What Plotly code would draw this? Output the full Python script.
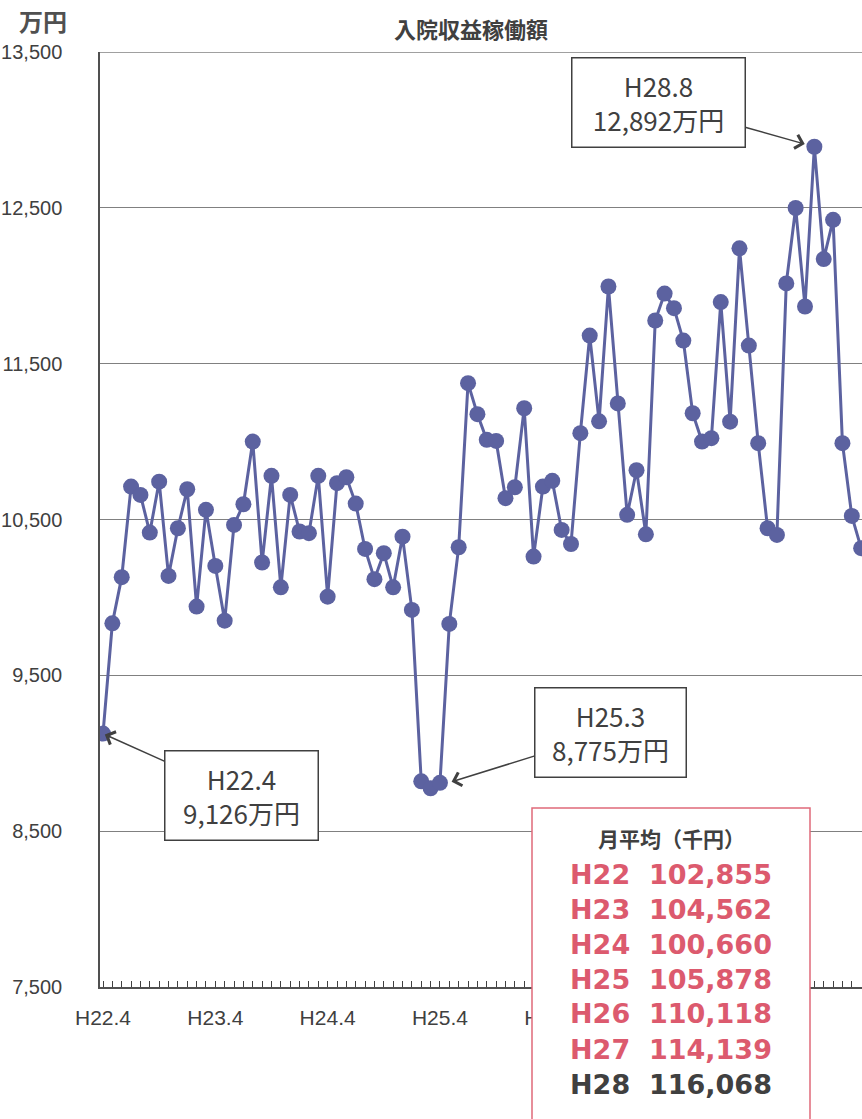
import plotly.graph_objects as go

# ---- data (万円, monthly from H22.4) ----
months_idx = list(range(82))
revenue = [
    9126, 9834, 10130, 10711, 10658, 10416, 10743, 10138, 10444, 10694, 9941, 10562,
    10202, 9851, 10465, 10598, 11000, 10224, 10780, 10065, 10658, 10423, 10412, 10780,
    10005, 10733, 10771, 10602, 10311, 10117, 10284, 10065, 10390, 9920, 8820, 8775,
    8810, 9830, 10322, 11375, 11176, 11011, 11004, 10637, 10707, 11214, 10262, 10711,
    10748, 10433, 10343, 11054, 11680, 11130, 11995, 11245, 10530, 10816, 10405, 11777,
    11950, 11856, 11648, 11182, 11000, 11022, 11895, 11128, 12240, 11616, 10990, 10444,
    10401, 12015, 12499, 11867, 12892, 12171, 12423, 10990, 10523, 10316,
]
tick_idx = [0, 12, 24, 36, 48, 60, 72]
tick_text = ["H22.4", "H23.4", "H24.4", "H25.4", "H26.4", "", ""]  # H27.4/H28.4 hidden behind box
y_ticks = [7500, 8500, 9500, 10500, 11500, 12500, 13500]

avg_years = ["H22", "H23", "H24", "H25", "H26", "H27", "H28"]
avg_values = ["102,855", "104,562", "100,660", "105,878", "110,118", "114,139", "116,068"]

callouts = [  # (index, label)
    (0, "H22.4"),
    (35, "H25.3"),
    (76, "H28.8"),
]

W, H = 862, 1119
ML, MR, MT, MB = 100, 0, 52, 132
PW, PH = W - ML - MR, H - MT - MB


def px(xs):
    # screen pixel -> paper coordinate
    return (xs - ML) / PW


def py(ys):
    return (H - MB - ys) / PH


LINE_COL = "#5C62A0"
TXT = "#404040"
RED = "#DC5A6E"

fig = go.Figure()
fig.add_trace(go.Scatter(
    x=months_idx, y=revenue, mode="lines+markers",
    line=dict(color=LINE_COL, width=3),
    marker=dict(color=LINE_COL, size=16),
    showlegend=False, hoverinfo="skip",
))

fig.update_layout(
    width=W, height=H,
    margin=dict(l=ML, r=MR, t=MT, b=MB, pad=0),
    paper_bgcolor="white", plot_bgcolor="white",
    xaxis=dict(
        range=[-0.32, 81.09], tickvals=tick_idx, ticktext=tick_text,
        ticks="inside", ticklen=6, tickcolor=TXT, tickwidth=1,
        minor=dict(dtick=1, tick0=0, ticks="inside", ticklen=6, tickcolor=TXT, tickwidth=1),
        showline=True, linecolor="#505050", linewidth=1.5,
        showgrid=False, zeroline=False,
        tickfont=dict(family="Liberation Sans", size=21, color=TXT),
        ticklabelstandoff=11,
    ),
    yaxis=dict(
        range=[7500, 13500], tickvals=y_ticks, tickformat=",d",
        showline=True, linecolor="#505050", linewidth=1.5,
        showgrid=True, gridcolor="#808080", gridwidth=1,
        zeroline=False, ticks="",
        tickfont=dict(family="Liberation Sans", size=20, color=TXT),
        ticklabelstandoff=32,
    ),
)

# top border line
fig.add_shape(type="line", xref="paper", yref="y", x0=0, x1=1, y0=13500, y1=13500,
              line=dict(color="#808080", width=1.5))

# titles
fig.add_annotation(xref="paper", yref="paper", x=px(471), y=py(28), text="<b>入院収益稼働額</b>",
                   xanchor="center", yanchor="middle",
                   showarrow=False, font=dict(family="Noto Sans CJK JP", size=22, color=TXT))
fig.add_annotation(xref="paper", yref="paper", x=px(43), y=py(21), text="<b>万円</b>",
                   xanchor="center", yanchor="middle",
                   showarrow=False, font=dict(family="Noto Sans CJK JP", size=24, color="#505050"))

# callouts with arrows
offsets = {0: (138, 62, 2, 152), 35: (180, -56, 22, 150), 76: (-156, -44, 10, 172)}
for idx, lab in callouts:
    ax, ay, so, bw = offsets[idx]
    fig.add_annotation(
        x=idx, y=revenue[idx], xref="x", yref="y",
        text=f"{lab}<br>{revenue[idx]:,}万円",
        showarrow=True, ax=ax, ay=ay, standoff=so,
        arrowhead=4, arrowsize=1.8, arrowwidth=1.5, arrowcolor=TXT,
        bgcolor="white", bordercolor=TXT, borderwidth=1.5, borderpad=0,
        width=bw, height=88,
        font=dict(family="Noto Sans CJK JP", size=26, color=TXT),
    )

# average box
fig.add_shape(type="rect", xref="paper", yref="paper", layer="above",
              x0=px(532), x1=px(810), y0=py(1140), y1=py(808),
              fillcolor="white", line=dict(color="#E06A7A", width=1.5))
fig.add_annotation(xref="paper", yref="paper", x=px(671), y=py(838), text="<b>月平均（千円）</b>",
                   xanchor="center", yanchor="middle",
                   showarrow=False, font=dict(family="Noto Sans CJK JP", size=21, color=TXT))
for i, (yr, val) in enumerate(zip(avg_years, avg_values)):
    col = TXT if i == len(avg_years) - 1 else RED
    fig.add_annotation(xref="paper", yref="paper", x=px(671), y=py(874 + i * 35),
                       xanchor="center", yanchor="middle",
                       text=f"<b>{yr}&nbsp;&nbsp;{val}</b>", showarrow=False,
                       font=dict(family="DejaVu Sans", size=27, color=col))

fig.write_html(
    "out.html",
    config={"displayModeBar": False},
    post_script="document.body.style.margin='0';document.body.style.overflow='hidden';",
)
